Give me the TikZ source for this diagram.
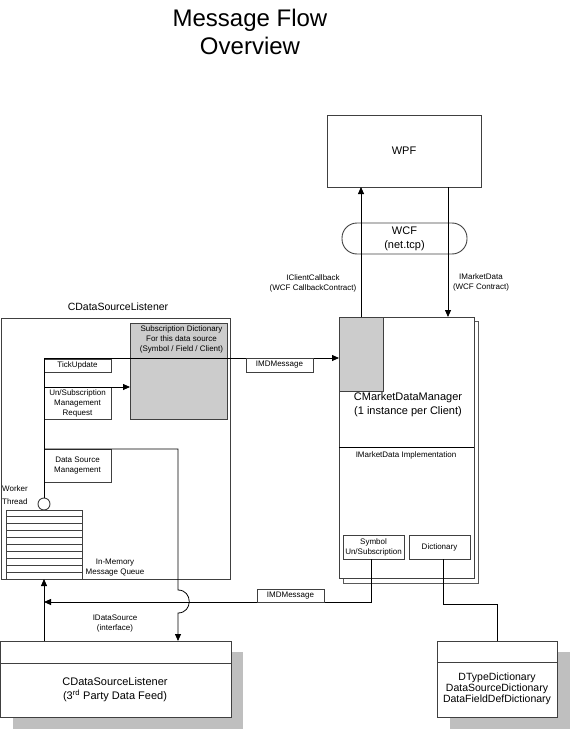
\documentclass[tikz,border=0pt]{standalone}
\usepackage{fontspec}
\setmainfont{Liberation Sans}
\usetikzlibrary{arrows.meta, positioning, calc}

\begin{document}
\begin{tikzpicture}[
  x=1pt, y=-1pt,
  % --- styles ------------------------------------------------------------
  box/.style={
    rectangle, draw=black!75, line width=0.9pt, anchor=north west,
    inner sep=1pt, outer sep=0pt, align=center, fill=white,
    font=\fontsize{8}{10}\selectfont
  },
  gbox/.style={box, fill=black!20},
  shade/.style={fill=black!25, draw=none},
  lbl/.style={font=\fontsize{8}{10}\selectfont, align=center, inner sep=0pt},
  big/.style={font=\fontsize{10.5}{14}\selectfont, align=center, inner sep=0pt},
  flow/.style={-{Triangle[length=7pt, width=6pt]}, line width=0.8pt},
  wire/.style={line width=0.8pt}
]
\useasboundingbox (0,0) rectangle (570,730);

% --------------------- title --------------------------------------------
\node[font=\fontsize{24}{28}\selectfont, align=center] (title) at (250,32)
     {Message Flow\\Overview};

% --------------------- client side --------------------------------------
\node[box, minimum width=154pt, minimum height=72pt,
      font=\fontsize{11}{13}\selectfont] (wpf) at (327,115) {WPF};
\node[draw=black!75, line width=0.9pt, rounded corners=15pt,
      minimum width=125pt, minimum height=31pt, align=center,
      font=\fontsize{11}{14}\selectfont] (wcf) at (404.5,238.5) {WCF\\(net.tcp)};

% --------------------- market data manager ------------------------------
\draw[box, draw=black!65] (343,321) rectangle (478,583);
\node[box, minimum width=135pt, minimum height=261pt] (mgr) at (339,317) {};
\node[gbox, minimum width=44pt, minimum height=74pt] (port) at (339,317) {};
\node[big, font=\fontsize{11}{14}\selectfont] (mgrtxt) at (408,405)
     {CMarketDataManager\\(1 instance per Client)};
\draw[wire] ($(mgr.north west)+(0,130)$) -- ($(mgr.north east)+(0,130)$);
\node[lbl] (impl) at (406,455) {IMarketData Implementation};
\node[box, minimum width=61pt, minimum height=24pt] (sym) at (343,535)
     {Symbol\\Un/Subscription};
\node[box, minimum width=61pt, minimum height=24pt] (dict) at (409,535)
     {Dictionary};

% --------------------- data source listener -----------------------------
\node[big] (dsltxt) at (118,307) {CDataSourceListener};
\node[box, minimum width=229pt, minimum height=261pt] (dsl) at (1,318) {};
\node[gbox, minimum width=97pt, minimum height=96pt] (subs) at (130,323) {};
\node[lbl, below=3pt of subs.north, xshift=3pt] (substxt)
     {Subscription Dictionary\\For this data source\\(Symbol / Field / Client)};
\node[box, minimum width=67pt, minimum height=13pt] (tick) at (44,359) {TickUpdate};
\node[box, minimum width=67pt, minimum height=32pt] (unsub) at (44,387)
     {Un/Subscription\\Management\\Request};
\node[box, minimum width=67pt, minimum height=33pt] (dsm) at (44,449)
     {Data Source\\Management};
\node[draw=black!75, line width=0.9pt, circle, minimum size=12pt,
      inner sep=0pt, fill=white] (worker) at (44,504) {};
\node[lbl, anchor=west, align=left, font=\fontsize{8}{13}\selectfont]
     (workertxt) at (2,495.5) {Worker\\Thread};

% in-memory queue
\node[box, minimum width=76pt, minimum height=69pt] (queue) at (6,510) {};
\foreach \i in {1,...,9}
  \draw[black!75, line width=0.9pt] ($(queue.north west)+(0,\i*6.9)$)
    -- ($(queue.north east)+(0,\i*6.9)$);
\node[lbl] (queuetxt) at (115,568) {In-Memory\\Message Queue};

% --------------------- bottom boxes -------------------------------------
\fill[shade] (13,652) rectangle (243,729);
\node[box, minimum width=231pt, minimum height=76pt] (feed) at (0,641) {};
\draw[black!75, line width=0.9pt] ($(feed.north west)+(0,22)$) -- ($(feed.north east)+(0,22)$);
\node[big, font=\fontsize{11}{14}\selectfont] (feedtxt) at (115,690)
     {CDataSourceListener\\(3\textsuperscript{rd} Party Data Feed)};

\fill[shade] (450,652) rectangle (570,729);
\node[box, minimum width=120pt, minimum height=76pt] (dtype) at (437,641) {};
\draw[black!75, line width=0.9pt] ($(dtype.north west)+(0,21)$) -- ($(dtype.north east)+(0,21)$);
\node[big, font=\fontsize{10.5}{11}\selectfont] (dtypetxt) at (497,689)
     {DTypeDictionary\\DataSourceDictionary\\DataFieldDefDictionary};

% --------------------- WCF arrows ---------------------------------------
\draw[flow] (port.north) -- (port.north |- wpf.south);
\coordinate (imd) at ($(wpf.south east)+(-33,0)$);
\draw[flow] (imd) -- (imd |- mgr.north);
\node[lbl] (cbtxt) at (313,283) {IClientCallback\\(WCF CallbackContract)};
\node[lbl] (imdtxt) at (481,282) {IMarketData\\(WCF Contract)};

% --------------------- listener flow ------------------------------------
\coordinate (tickl) at ($(tick.north west)+(0,-1)$);
\draw[flow] (tickl) -- (tickl -| mgr.west);
\node[box, minimum width=67pt, minimum height=14pt] (msgtop) at (246,358) {IMDMessage};
\draw[wire] (tickl) -- (worker.north);
\draw[flow] (unsub.north west) -- (unsub.north west -| subs.west);

% data source management -> 3rd party feed (hop over the IMDMessage line)
\coordinate (dsmr) at ($(dsm.north west)+(134,0)$);
\draw[flow] (dsm.north west) -- (dsmr) -- ($(dsmr)+(0,141)$)
  .. controls ($(dsmr)+(15,141)$) and ($(dsmr)+(15,164)$) .. ($(dsmr)+(0,164)$)
  -- (dsmr |- feed.north);

% feed -> queue
\coordinate (feedup) at ($(feed.north west)+(44,0)$);
\draw[flow] (feedup) -- (feedup |- queue.south);
\node[lbl] (idstxt) at (115,624) {IDataSource\\(interface)};

% symbol un/subscription -> listener
\coordinate (symout) at ($(sym.south)+(-2.5,0)$);
\draw[flow] (symout) |- ($(feedup)+(0,-39)$);
\node[box, minimum width=67pt, minimum height=13pt] (msgbot) at (257,589) {IMDMessage};

% dictionary -> dictionaries
\coordinate (dictout) at ($(dict.south)+(3.5,0)$);
\draw[wire] (dictout) |- ($(dtype.north)+(0,-37)$) -- (dtype.north);

\end{tikzpicture}
\end{document}
